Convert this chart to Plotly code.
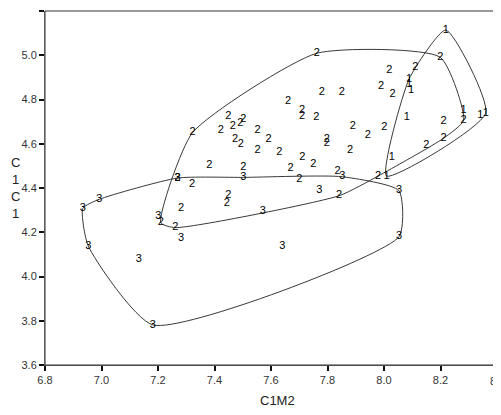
import plotly.graph_objects as go

# Group 1 points (C1M2, C1C1)
g1_x = [8.219, 8.089, 8.089, 8.096, 8.081, 8.282, 8.341, 8.360, 8.028, 8.009]
g1_y = [5.114, 4.893, 4.870, 4.843, 4.722, 4.753, 4.730, 4.738, 4.541, 4.454]

# Group 2 points
g2_x = [7.762, 8.019, 8.111, 8.199, 7.990, 8.030, 7.780, 7.851, 7.660, 7.710,
        7.710, 7.760, 7.449, 7.465, 7.491, 7.502, 7.422, 7.322, 7.552, 7.591,
        7.473, 7.493, 7.552, 7.629, 7.711, 7.750, 7.798, 7.798, 7.890, 7.943,
        8.001, 7.880, 8.150, 8.211, 8.211, 8.282, 7.382, 7.502, 7.669, 7.700,
        7.836, 7.979, 7.841, 7.321, 7.449, 7.444, 7.282, 7.210, 7.261, 7.269]
g2_y = [5.009, 4.933, 4.948, 4.991, 4.861, 4.824, 4.835, 4.835, 4.790, 4.753,
        4.725, 4.722, 4.725, 4.677, 4.692, 4.710, 4.659, 4.650, 4.659, 4.620,
        4.620, 4.599, 4.569, 4.560, 4.540, 4.508, 4.621, 4.603, 4.677, 4.640,
        4.673, 4.569, 4.591, 4.625, 4.700, 4.707, 4.502, 4.495, 4.489, 4.439,
        4.474, 4.454, 4.365, 4.419, 4.368, 4.329, 4.308, 4.243, 4.221, 4.445]

# Group 3 points
g3_x = [6.992, 6.934, 6.953, 7.132, 7.182, 7.201, 7.282, 7.269, 7.502, 7.571,
        7.640, 7.771, 7.852, 8.053, 8.053]
g3_y = [4.349, 4.308, 4.138, 4.080, 3.781, 4.273, 4.171, 4.445, 4.448, 4.293,
        4.138, 4.388, 4.451, 4.388, 4.180]

groups = [("1", g1_x, g1_y), ("2", g2_x, g2_y), ("3", g3_x, g3_y)]

x_ticks = [6.8, 7.0, 7.2, 7.4, 7.6, 7.8, 8.0, 8.2, 8.4]
y_ticks = [3.6, 3.8, 4.0, 4.2, 4.4, 4.6, 4.8, 5.0, 5.2]


def convex_hull(xs, ys):
    pts = sorted(set(zip(xs, ys)))
    if len(pts) < 3:
        return pts

    def cross(o, a, b):
        return (a[0] - o[0]) * (b[1] - o[1]) - (a[1] - o[1]) * (b[0] - o[0])

    lower = []
    for p in pts:
        while len(lower) >= 2 and cross(lower[-2], lower[-1], p) <= 0:
            lower.pop()
        lower.append(p)
    upper = []
    for p in reversed(pts):
        while len(upper) >= 2 and cross(upper[-2], upper[-1], p) <= 0:
            upper.pop()
        upper.append(p)
    return lower[:-1] + upper[:-1]


fig = go.Figure()

for name, xs, ys in groups:
    hull = convex_hull(xs, ys)
    hx = [p[0] for p in hull] + [hull[0][0]]
    hy = [p[1] for p in hull] + [hull[0][1]]
    fig.add_trace(go.Scatter(
        x=hx, y=hy, mode="lines",
        line=dict(color="#222222", width=0.9, shape="spline", smoothing=0.55),
        hoverinfo="skip", showlegend=False,
    ))

for name, xs, ys in groups:
    fig.add_trace(go.Scatter(
        x=xs, y=ys, mode="text", text=[name] * len(xs),
        textposition="middle center",
        textfont=dict(family="Liberation Sans, Arial, sans-serif", size=11, color="#000000"),
        showlegend=False, name=name,
    ))

tick_font = dict(size=11, color="#333333")

fig.update_layout(
    width=493, height=407,
    margin=dict(l=37, r=4, t=3, b=50),
    paper_bgcolor="white", plot_bgcolor="white",
    showlegend=False,
    font=dict(family="Liberation Sans, Arial, sans-serif", size=11, color="#333333"),
    xaxis=dict(
        range=[6.8, 8.4], tickvals=x_ticks, ticktext=[f"{v:.1f}" for v in x_ticks],
        showgrid=False, zeroline=False, showline=True, linecolor="#666666", linewidth=1,
        ticks="outside", ticklen=5, tickcolor="#111111", tickwidth=1.5,
        tickfont=tick_font, automargin=False,
    ),
    yaxis=dict(
        range=[3.6, 5.2], tickvals=y_ticks, ticktext=[f"{v:.1f}" for v in y_ticks],
        showgrid=False, zeroline=False, showline=True, linecolor="#888888", linewidth=1,
        ticks="outside", ticklen=5, tickcolor="#111111", tickwidth=2,
        tickfont=tick_font, automargin=False,
    ),
    shapes=[dict(type="rect", xref="paper", yref="paper", x0=0, x1=1, y0=0, y1=1,
                 line=dict(color="#333333", width=1))],
    annotations=[
        dict(text="C<br>1<br>C<br>1", xref="paper", yref="paper",
             x=-0.066, y=0.5, xanchor="center", yanchor="middle",
             showarrow=False, font=dict(size=13, color="#222222")),
        dict(text="C1M2", xref="paper", yref="paper",
             x=0.514, y=-0.099, xanchor="center", yanchor="middle",
             showarrow=False, font=dict(size=13, color="#222222")),
        dict(text=f"{x_ticks[-1]:.1f}", xref="x", yref="paper",
             x=x_ticks[-1], y=0, yshift=-8, xanchor="center", yanchor="top",
             showarrow=False, font=tick_font),
    ],
)

fig.write_html("out.html")
